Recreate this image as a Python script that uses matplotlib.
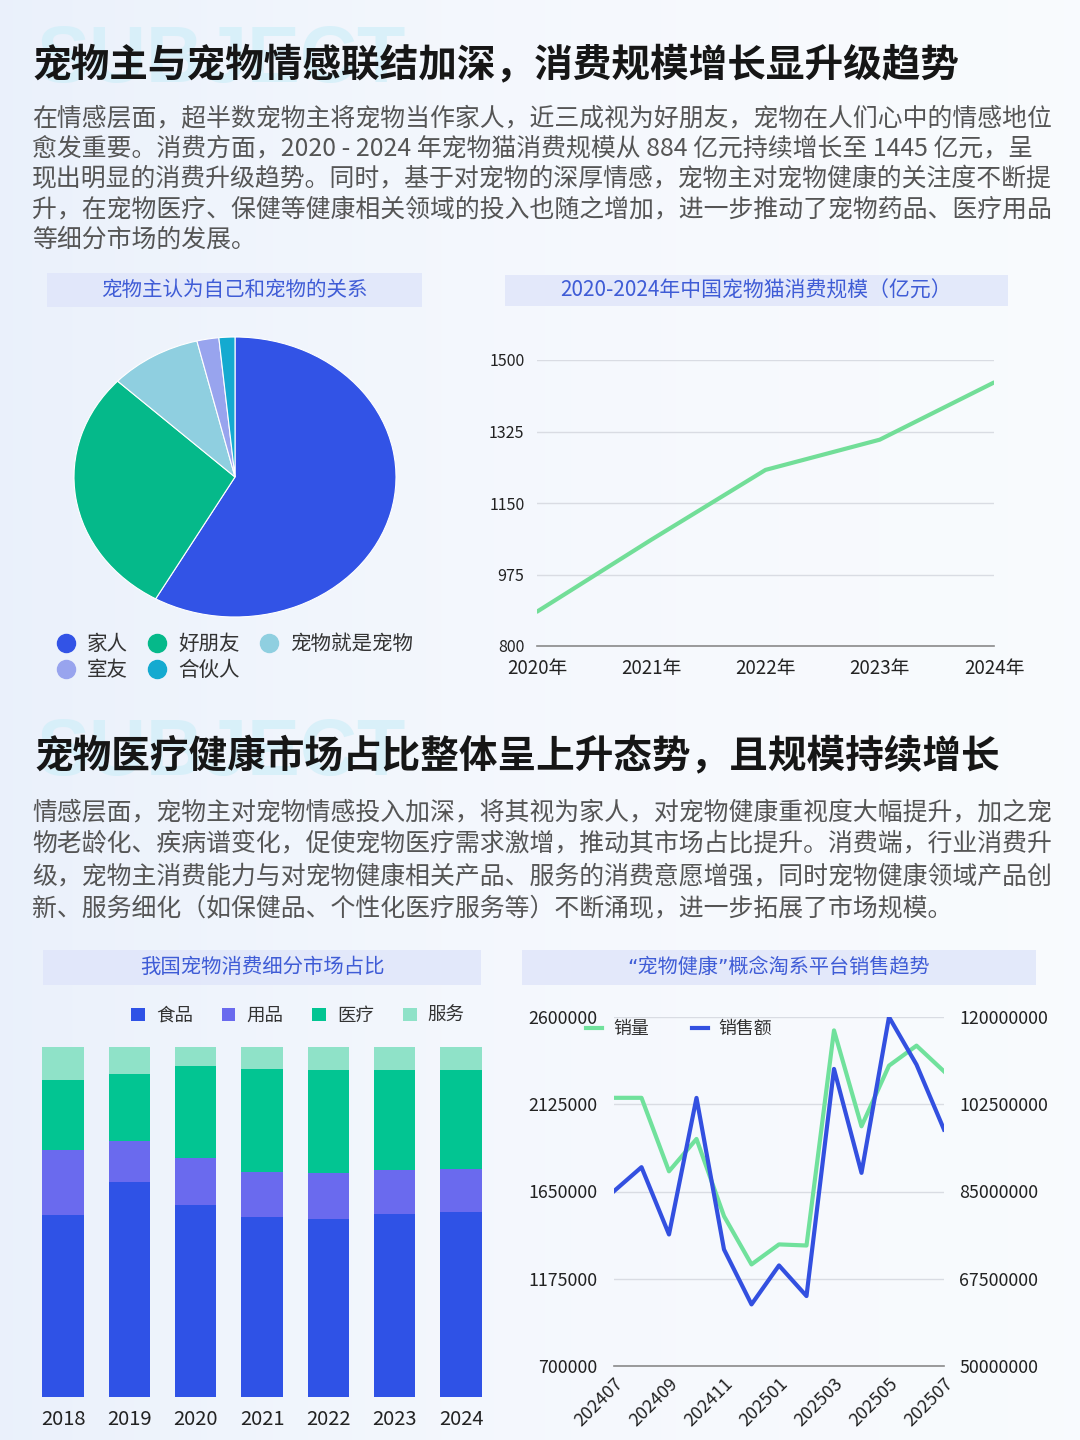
import numpy as np
import matplotlib
matplotlib.use('Agg')
import matplotlib.pyplot as plt
from matplotlib.patches import Rectangle, Patch
from matplotlib.lines import Line2D

plt.rcParams['font.family'] = ['Noto Sans CJK SC', 'DejaVu Sans']

# ---------------- data ----------------
title1 = "宠物主与宠物情感联结加深，消费规模增长显升级趋势"
para1 = [
    "在情感层面，超半数宠物主将宠物当作家人，近三成视为好朋友，宠物在人们心中的情感地位",
    "愈发重要。消费方面，2020 - 2024 年宠物猫消费规模从 884 亿元持续增长至 1445 亿元，呈",
    "现出明显的消费升级趋势。同时，基于对宠物的深厚情感，宠物主对宠物健康的关注度不断提",
    "升，在宠物医疗、保健等健康相关领域的投入也随之增加，进一步推动了宠物药品、医疗用品",
    "等细分市场的发展。",
]
title2 = "宠物医疗健康市场占比整体呈上升态势，且规模持续增长"
para2 = [
    "情感层面，宠物主对宠物情感投入加深，将其视为家人，对宠物健康重视度大幅提升，加之宠",
    "物老龄化、疾病谱变化，促使宠物医疗需求激增，推动其市场占比提升。消费端，行业消费升",
    "级，宠物主消费能力与对宠物健康相关产品、服务的消费意愿增强，同时宠物健康领域产品创",
    "新、服务细化（如保健品、个性化医疗服务等）不断涌现，进一步拓展了市场规模。",
]

pie_title = "宠物主认为自己和宠物的关系"
pie_labels = ["家人", "好朋友", "宠物就是宠物", "室友", "合伙人"]
pie_values = [58.2, 28.8, 9.2, 2.2, 1.6]

line_title = "2020-2024年中国宠物猫消费规模（亿元）"
line_years = ["2020年", "2021年", "2022年", "2023年", "2024年"]
line_values = [884, 1060, 1231, 1305, 1445]
line_yticks = [800, 975, 1150, 1325, 1500]

bar_title = "我国宠物消费细分市场占比"
bar_years = ["2018", "2019", "2020", "2021", "2022", "2023", "2024"]
bar_series = ["食品", "用品", "医疗", "服务"]
food = [52.1, 61.5, 54.8, 51.5, 50.8, 52.2, 52.9]
goods = [18.5, 11.7, 13.6, 12.8, 13.3, 12.6, 12.3]
medical = [20.1, 19.1, 26.1, 29.5, 29.4, 28.7, 28.3]
service = [9.3, 7.7, 5.5, 6.2, 6.5, 6.5, 6.5]

dual_title = "“宠物健康”概念淘系平台销售趋势"
months = ["202407", "202408", "202409", "202410", "202411", "202412", "202501",
          "202502", "202503", "202504", "202505", "202506", "202507"]
sales_volume = [2160000, 2160000, 1760000, 1936000, 1516000, 1253000, 1362000,
                1356000, 2527000, 2005000, 2335000, 2444000, 2304000]
sales_amount = [85070000, 89880000, 76380000, 103770000, 73380000, 62360000, 70170000,
                64030000, 109580000, 88740000, 120000000, 110450000, 97420000]
left_ticks = [700000, 1175000, 1650000, 2125000, 2600000]
right_ticks = [50000000, 67500000, 85000000, 102500000, 120000000]

# ---------------- styles ----------------
W, H = 1080, 1440
pie_colors = ["#3253E6", "#05B98A", "#8FCFE0", "#98A4EE", "#14AAD0"]
bar_colors = ["#2F52E6", "#6A6AEE", "#02C592", "#8FE2C8"]
green_line = "#72DE98"
vol_color = "#70E19C"
amt_color = "#3350E0"
hdr_fill = "#E0E6FA"
hdr_text = "#3F5CD6"
grid_c = "#D9DCE3"
txt_dark = "#222222"

fig = plt.figure(figsize=(10.8, 14.4), dpi=100)


def rect(x0, y0, x1, y1):
    return [x0 / W, 1 - y1 / H, (x1 - x0) / W, (y1 - y0) / H]


def fx(x):
    return x / W


def fy(y):
    return 1 - y / H


# background gradient
bg = fig.add_axes([0, 0, 1, 1], zorder=-10)
yy, xx = np.mgrid[0:1:144j, 0:1:108j]
white = np.array([0.982, 0.988, 0.998])
tint = np.array([0.905, 0.935, 0.982])
t = np.clip(0.7 * (1 - xx) ** 2 + 0.12, 0, 1)
img = white * (1 - t[..., None]) + tint * t[..., None]
bg.imshow(img, extent=[0, 1, 0, 1], aspect='auto', interpolation='bicubic')
bg.set_xlim(0, 1)
bg.set_ylim(0, 1)
bg.axis('off')

# watermark words
for ybase in (82, 775):
    fig.text(fx(37), fy(ybase), "SUBJECT", family=['Liberation Sans', 'DejaVu Sans'],
             fontsize=57, fontweight='bold', color='#D3EFF9', alpha=0.8,
             ha='left', va='baseline', zorder=-5)

# titles and paragraphs
fig.text(fx(32), fy(65), title1, fontsize=27.8, fontweight='heavy', color='#161616',
         ha='left', va='center')
for i, line in enumerate(para1):
    fig.text(fx(32), fy(118 + i * 30.5), line, fontsize=17.9, fontweight='medium',
             color='#555555', ha='left', va='center')
fig.text(fx(34), fy(757), title2, fontsize=27.8, fontweight='heavy', color='#161616',
         ha='left', va='center')
for i, line in enumerate(para2):
    fig.text(fx(32), fy(813 + i * 31.7), line, fontsize=17.9, fontweight='medium',
             color='#555555', ha='left', va='center')

# header boxes
headers = [((47, 273, 422, 307), pie_title, 14.8, None),
           ((505, 275, 1008, 306), line_title, 15.0, None),
           ((43, 950, 481, 985), bar_title, 14.7, None),
           ((522, 950, 1036, 985), dual_title, 14.5, ['DejaVu Sans', 'Noto Sans CJK SC'])]
for (x0, y0, x1, y1), txt, fs, fam in headers:
    fig.patches.append(Rectangle((fx(x0), fy(y1)), (x1 - x0) / W, (y1 - y0) / H,
                                 transform=fig.transFigure, facecolor=hdr_fill,
                                 edgecolor='none', alpha=0.85, zorder=0))
    kw = {} if fam is None else {'family': fam}
    fig.text(fx((x0 + x1) / 2), fy((y0 + y1) / 2), txt, fontsize=fs, color=hdr_text,
             ha='center', va='center', **kw)

# ---------------- pie ----------------
axp = fig.add_axes(rect(74, 337, 396, 617))
axp.pie(pie_values, colors=pie_colors, startangle=90, counterclock=False,
        wedgeprops=dict(linewidth=0.8, edgecolor='white'))
axp.set_aspect('auto')
axp.set_xlim(-1, 1)
axp.set_ylim(-1, 1)


def circ(c):
    return Line2D([], [], marker='o', linestyle='none', markersize=13,
                  markerfacecolor=c, markeredgecolor=c)


leg_kw = dict(frameon=False, fontsize=14.8, handlelength=0.85, handletextpad=0.6,
              columnspacing=1.0, borderpad=0, borderaxespad=0, labelcolor='#333333')
fig.legend([circ(pie_colors[i]) for i in range(3)], pie_labels[:3], ncol=3,
           loc='center left', bbox_to_anchor=(fx(57), fy(644)), **leg_kw)
fig.legend([circ(pie_colors[i]) for i in range(3, 5)], pie_labels[3:], ncol=2,
           loc='center left', bbox_to_anchor=(fx(57), fy(670)), **leg_kw)

# ---------------- line chart ----------------
axl = fig.add_axes(rect(537, 360, 994, 646))
xl = np.arange(len(line_years))
axl.plot(xl, line_values, color=green_line, lw=3, solid_capstyle='round', zorder=3)
axl.set_xlim(0, len(line_years) - 1)
axl.set_ylim(line_yticks[0], line_yticks[-1])
axl.set_yticks(line_yticks)
axl.set_yticklabels([str(v) for v in line_yticks])
axl.set_xticks(xl)
axl.set_xticklabels(line_years)
axl.grid(axis='y', color=grid_c, lw=1)
axl.set_axisbelow(True)
for s in ('top', 'right', 'left'):
    axl.spines[s].set_visible(False)
axl.spines['bottom'].set_color('#8A8A8A')
axl.spines['bottom'].set_linewidth(1.2)
axl.tick_params(axis='y', length=0, pad=9, labelsize=11.5, labelcolor=txt_dark)
axl.tick_params(axis='x', length=0, pad=8.5, labelsize=13.5, labelcolor=txt_dark)
axl.patch.set_visible(False)

# ---------------- stacked bars ----------------
axb = fig.add_axes(rect(29.8, 1047, 494.2, 1397))
xb = np.arange(len(bar_years))
bottom = np.zeros(len(bar_years))
for vals, c, name in zip([food, goods, medical, service], bar_colors, bar_series):
    axb.bar(xb, vals, bottom=bottom, width=0.62, color=c, label=name, linewidth=0)
    bottom += np.array(vals)
axb.set_xlim(-0.5, len(bar_years) - 0.5)
axb.set_ylim(0, 100)
axb.set_xticks(xb)
axb.set_xticklabels(bar_years)
axb.set_yticks([])
for s in axb.spines.values():
    s.set_visible(False)
axb.tick_params(axis='x', length=0, pad=8.5, labelsize=14.5, labelcolor=txt_dark)
axb.patch.set_visible(False)
fig.legend([Patch(facecolor=c, edgecolor='none') for c in bar_colors], bar_series,
           ncol=4, loc='center left', bbox_to_anchor=(fx(131), fy(1016)), frameon=False,
           fontsize=13.3, handlelength=0.75, handleheight=0.75, handletextpad=0.6,
           columnspacing=1.55, borderpad=0, borderaxespad=0, labelcolor='#333333')

# ---------------- dual axis ----------------
axd = fig.add_axes(rect(614, 1017, 944, 1366))
xm = np.arange(len(months))
axd.plot(xm, sales_volume, color=vol_color, lw=3, zorder=3)
axd.set_xlim(0, len(months) - 1)
axd.set_ylim(left_ticks[0], left_ticks[-1])
axd.set_yticks(left_ticks)
axd.set_yticklabels([str(v) for v in left_ticks])
axd.set_xticks(xm[::2])
axd.set_xticklabels(months[::2], rotation=45, ha='right', va='top',
                    rotation_mode='anchor')
axd.grid(axis='y', color=grid_c, lw=1)
axd.set_axisbelow(True)
for s in ('top', 'right', 'left'):
    axd.spines[s].set_visible(False)
axd.spines['bottom'].set_color('#8A8A8A')
axd.spines['bottom'].set_linewidth(1.2)
axd.tick_params(axis='y', length=0, pad=12, labelsize=12.8, labelcolor=txt_dark)
axd.tick_params(axis='x', length=0, pad=6, labelsize=13, labelcolor=txt_dark)
axd.patch.set_visible(False)

axr = axd.twinx()
axr.plot(xm, sales_amount, color=amt_color, lw=3, zorder=3)
axr.set_ylim(right_ticks[0], right_ticks[-1])
axr.set_yticks(right_ticks)
axr.set_yticklabels([str(v) for v in right_ticks])
for s in axr.spines.values():
    s.set_visible(False)
axr.tick_params(axis='y', length=0, pad=11, labelsize=12.8, labelcolor=txt_dark)
axr.patch.set_visible(False)

fig.legend([Line2D([], [], color=vol_color, lw=3), Line2D([], [], color=amt_color, lw=3)],
           ["销量", "销售额"], ncol=2, loc='center left',
           bbox_to_anchor=(fx(586), fy(1029)), frameon=False, fontsize=12.9,
           handlelength=0.9, handletextpad=0.6, columnspacing=2.4, borderpad=0,
           borderaxespad=0, labelcolor='#333333')

fig.savefig("out.png", dpi=100)
